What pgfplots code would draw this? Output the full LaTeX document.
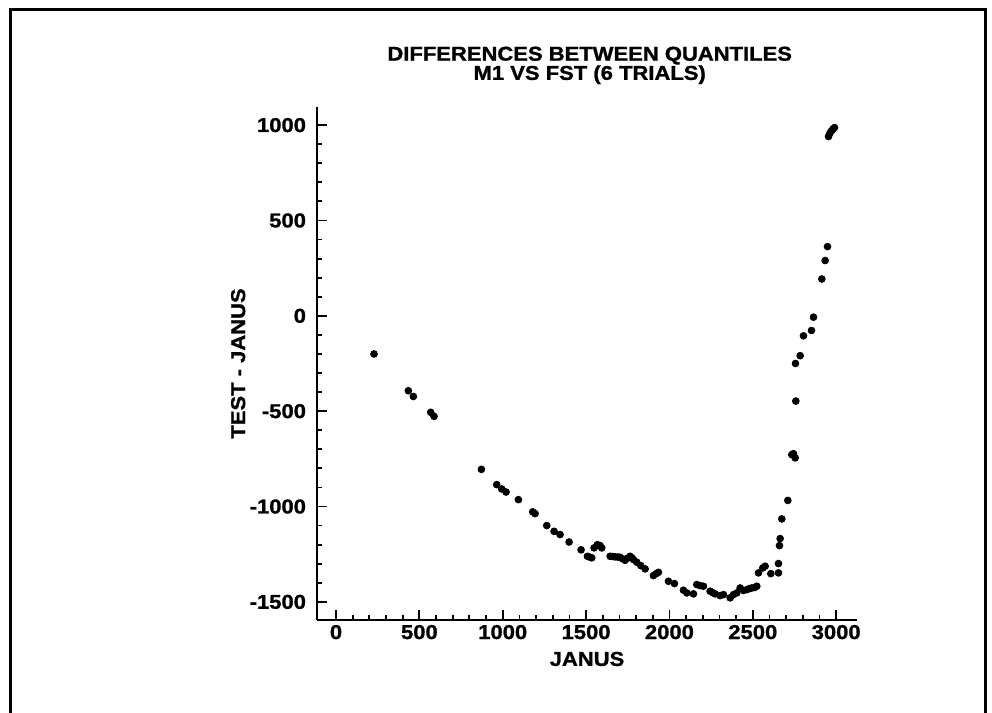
\documentclass[border=0pt]{standalone}
\usepackage{fontspec}
\setmainfont{Liberation Sans}[FakeStretch=1.1, BoldFeatures={FakeBold=1.2}]
\usepackage{pgfplots}
\pgfplotsset{compat=1.18}

% points (JANUS, TEST - JANUS)
\begin{document}
\begin{tikzpicture}
\useasboundingbox (0,0) rectangle (496bp,356.5bp);
% page frame of the scanned figure
\draw[line width=1.5bp] (5bp,0) -- (5bp,351.5bp) -- (492.5bp,351.5bp) -- (492.5bp,0);
\begin{axis}[
    at={(158.5bp,46.5bp)}, anchor=south west,
    width=270bp, height=256.5bp, scale only axis,
    axis lines*=left,
    axis line style={line width=1bp},
    xmin=-114, xmax=3125,
    ymin=-1595, ymax=1095,
    xtick={0,500,...,3000},
    ytick={-1500,-1000,...,1000},
    minor x tick num=4, minor y tick num=4,
    tick align=inside,
    major tick length=5bp, minor tick length=2.5bp,
    tick style={line width=0.9bp, black},
    /pgf/number format/assume math mode=true,
    /pgf/number format/1000 sep={},
    tick label style={font=\fontsize{10bp}{12bp}\selectfont\bfseries},
    yticklabel style={xshift=-2bp},
    xticklabel style={yshift=1bp},
    xlabel={JANUS},
    ylabel={TEST - JANUS},
    label style={font=\fontsize{10bp}{12bp}\selectfont\bfseries},
    xlabel style={at={(axis description cs:0.5,-0.076)}, anchor=center},
    ylabel style={at={(axis description cs:-0.146,0.5)}, anchor=center},
    title={DIFFERENCES BETWEEN QUANTILES\\M1 VS FST (6 TRIALS)},
    title style={at={(axis description cs:0.505,1)}, anchor=south, yshift=2bp,
        align=center, font=\fontsize{10bp}{9.6bp}\selectfont\bfseries},
]
\addplot[only marks, mark=*, mark size=1.7bp, black] coordinates {
(228,-200) (434,-393) (464,-423) (568,-506) (588,-527)
(872,-805) (964,-885) (994,-908) (1020,-924) (1094,-964)
(1180,-1028) (1194,-1037) (1264,-1100) (1308,-1130) (1344,-1147)
(1398,-1186) (1470,-1227) (1508,-1261) (1524,-1266) (1534,-1269)
(1548,-1217) (1568,-1200) (1584,-1205) (1594,-1217)
(1644,-1261) (1660,-1262) (1674,-1264) (1690,-1265) (1704,-1266)
(1720,-1275) (1734,-1282) (1750,-1270) (1764,-1261) (1774,-1268)
(1784,-1278) (1804,-1292) (1828,-1310) (1854,-1327)
(1904,-1362) (1920,-1352) (1934,-1345) (1994,-1392) (2030,-1404)
(2084,-1439) (2104,-1453) (2144,-1458) (2164,-1409) (2184,-1415)
(2204,-1418) (2244,-1444) (2260,-1452) (2274,-1458) (2304,-1467)
(2324,-1462) (2364,-1479) (2384,-1462) (2404,-1453) (2424,-1427)
(2444,-1440) (2464,-1436) (2480,-1430) (2494,-1427) (2510,-1425)
(2524,-1418) (2534,-1348) (2560,-1322) (2574,-1313)
(2608,-1352) (2654,-1348) (2654,-1299) (2660,-1205) (2664,-1168)
(2674,-1065) (2710,-968) (2734,-728) (2744,-723) (2754,-745)
(2758,-447) (2756,-250) (2784,-209) (2804,-105) (2852,-77)
(2864,-7) (2914,193) (2934,290) (2948,363)
(2954,940) (2962,957) (2972,970) (2982,980) (2990,987)
};
\end{axis}
\end{tikzpicture}
\end{document}
